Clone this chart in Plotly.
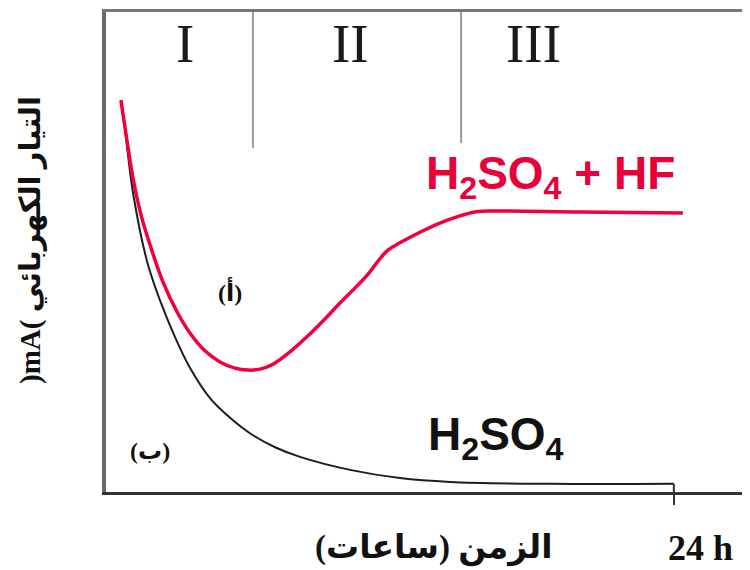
import plotly.graph_objects as go

# ---- data (hours, arbitrary current units) ----
red_t = [0.04, 0.30, 0.56, 0.91, 1.30, 1.86, 2.47, 3.03, 3.68, 4.33, 4.98, 5.55, 6.07, 6.59, 7.37,
         8.10, 8.88, 9.53, 10.18, 10.75, 11.18, 11.61, 12.13, 13.00, 13.86, 14.73, 15.38, 16.03, 19.93, 24.39]
red_i = [81.5, 73.2, 65.4, 57.7, 51.5, 43.8, 37.6, 33.2, 29.5, 27.2, 25.9, 25.5, 25.7, 26.6, 29.3,
         32.4, 36.1, 39.4, 42.5, 45.4, 48.1, 50.4, 51.9, 54.1, 56.0, 57.5, 58.3, 58.5, 58.3, 58.1]
blk_t = [0.04, 0.22, 0.56, 1.17, 1.73, 2.38, 3.03, 3.90, 4.77, 5.63, 6.72, 7.80, 9.97, 12.13, 14.30, 18.63, 24.0]
blk_i = [81.5, 75.3, 62.4, 48.1, 40.0, 32.4, 26.0, 19.7, 15.6, 12.4, 9.5, 7.5, 4.8, 3.1, 2.3, 1.9, 1.9]
phase_bounds = [5.76, 14.78]
phase_bottoms = [71.6, 72.6]
phase_labels = ["I", "II", "III"]
phase_label_x = [2.82, 10.0, 17.9]
tick_vals = [24]

OFF = 8                      # page body margin
W, H = 750 - OFF, 570 - OFF
L, R, T, B = 98, 0, 4, 78

def pp(x, y):
    """page pixel -> paper coords"""
    return (x - OFF - L) / (W - L - R), (H - B - (y - OFF)) / (H - T - B)

fig = go.Figure()
fig.add_trace(go.Scatter(x=blk_t, y=blk_i, mode="lines",
                         line=dict(color="#1e1e1e", width=2, shape="spline", smoothing=1.0),
                         showlegend=False, hoverinfo="skip"))
fig.add_trace(go.Scatter(x=red_t, y=red_i, mode="lines",
                         line=dict(color="#f2003c", width=3.5, shape="spline", smoothing=1.0),
                         showlegend=False, hoverinfo="skip"))

shapes = []
for xb, yb in zip(phase_bounds, phase_bottoms):
    shapes.append(dict(type="line", xref="x", yref="y", x0=xb, x1=xb, y0=yb, y1=99.79,
                       line=dict(color="#9a9a9a", width=2)))
# end tick joining the H2SO4 curve to the time axis
shapes.append(dict(type="line", xref="x", yref="y", x0=tick_vals[0], x1=tick_vals[0],
                   y0=0, y1=blk_i[-1], line=dict(color="#333", width=2)))

ann = []
for lab, lx in zip(phase_labels, phase_label_x):
    _, yy = pp(0, 44)
    ann.append(dict(x=lx, y=yy, xref="x", yref="paper", text=lab, showarrow=False,
                    yanchor="middle",
                    font=dict(family="Liberation Serif", size=55, color="#1a1a1a")))

def add_px(text, x, y, size, color="#111", family="Liberation Serif, DejaVu Sans", angle=0):
    px_, py_ = pp(x, y)
    ann.append(dict(x=px_, y=py_, xref="paper", yref="paper", text=text, showarrow=False,
                    textangle=angle, xanchor="center", yanchor="middle",
                    font=dict(family=family, size=size, color=color)))

add_px("<b>H<sub>2</sub>SO<sub>4</sub> + HF</b>", 550, 176, 46, color="#e8003a", family="Liberation Sans, Arial")
add_px("<b>H<sub>2</sub>SO<sub>4</sub></b>", 496, 437, 46, color="#111", family="Liberation Sans, Arial")
add_px("<b>(أ)</b>", 230, 292, 24)
add_px("<b>(ب)</b>", 150, 451, 24)
add_px("<b>24 h</b>", 700, 548, 36)
add_px("<b>الزمن (ساعات)\u200F</b>", 434, 548, 33)
add_px("<b>)mA( التيار الكهربائي</b>", 30, 240, 29, angle=-90)

fig.update_layout(
    width=W, height=H,
    margin=dict(l=L, r=R, t=T, b=B),
    paper_bgcolor="white", plot_bgcolor="white",
    shapes=shapes, annotations=ann,
    xaxis=dict(range=[-0.607, 27.30], showgrid=False, zeroline=False,
               showline=True, linecolor="#333", linewidth=3, mirror=False,
               tickvals=tick_vals, ticks="outside", ticklen=10, tickwidth=2, tickcolor="#333",
               showticklabels=False),
    xaxis2=dict(overlaying="x", side="top", range=[-0.607, 27.30], showgrid=False, zeroline=False,
                showline=True, linecolor="#777", linewidth=3, showticklabels=False, ticks=""),
    yaxis=dict(range=[0.21, 99.79], showgrid=False, zeroline=False, showline=True,
               linecolor="#6a6a6a", linewidth=4, showticklabels=False, ticks=""),
)
fig.add_trace(go.Scatter(x=[None], y=[None], xaxis="x2", showlegend=False, hoverinfo="skip"))
fig.write_html("out.html")
